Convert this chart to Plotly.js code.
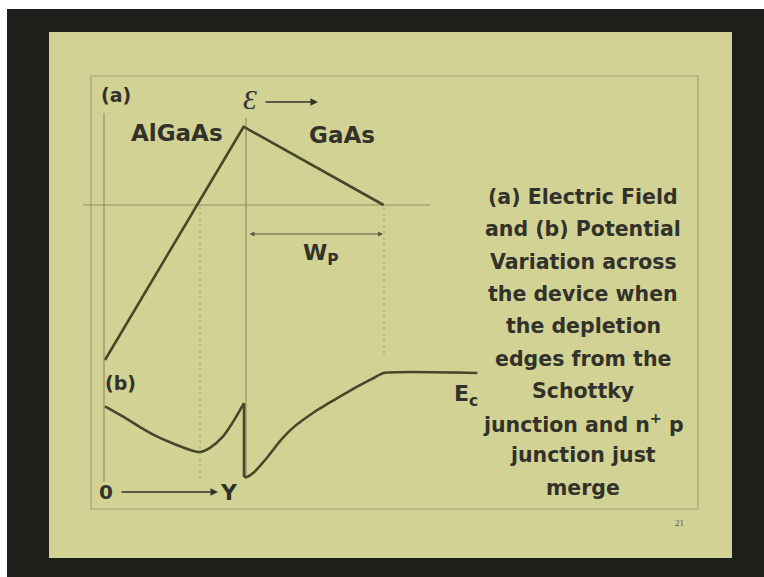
<!DOCTYPE html>
<html>
<head>
<meta charset="utf-8">
<script src="https://cdn.plot.ly/plotly-3.0.1.min.js"></script>
<style>html,body{margin:0;padding:0;background:#fff;}#chart{width:764px;height:577px;}</style>
</head>
<body>
<div id="chart"></div>
<script>
// ---- data (position in arbitrary units, interface at x = 10, depletion edge at x = 20) ----
const fieldX = [0, 9.9, 19.9];
const fieldE = [-10, 5.05, 0];

const alGaAsX = [0, 1.3, 2.5, 3.7, 4.9, 6.1, 6.8, 7.5, 8.4, 9.1, 9.93];
const alGaAsV = [6.8, 5.8, 4.8, 3.9, 3.2, 2.6, 2.4, 2.8, 3.85, 5.2, 7.1];

const gaAsX = [9.93, 10.15, 10.6, 11.6, 12.5, 13.4, 14.9, 16.3, 17.7, 19.1, 19.9, 26.6];
const gaAsV = [0, 0, 0.4, 1.9, 3.45, 4.7, 6.2, 7.35, 8.45, 9.45, 10, 10];

const textLines = [
  "(a) Electric Field",
  "and (b) Potential",
  "Variation across",
  "the device when",
  "the depletion",
  "edges from the",
  "Schottky",
  "junction and n<sup>+</sup> p",
  "junction just",
  "merge"
];

// ---- layout helpers (pixel -> paper) ----
const W = 764, H = 577;
const px = x => x / W;
const py = y => 1 - y / H;

const ink = '#32322a';
const curve = '#47472a';
const thin = '#8f8f66';
const bold = 'DejaVu Sans, Verdana, sans-serif';

const traces = [
  {x: fieldX, y: fieldE, mode: 'lines', line: {color: curve, width: 2.6}, hoverinfo: 'skip', yaxis: 'y'},
  {x: alGaAsX, y: alGaAsV, mode: 'lines', line: {color: curve, width: 2.6, shape: 'spline', smoothing: 0.8}, hoverinfo: 'skip', yaxis: 'y2'},
  {x: [alGaAsX[alGaAsX.length - 1], gaAsX[0]], y: [alGaAsV[alGaAsV.length - 1], gaAsV[0]], mode: 'lines', line: {color: curve, width: 2.6}, hoverinfo: 'skip', yaxis: 'y2'},
  {x: gaAsX, y: gaAsV, mode: 'lines', line: {color: curve, width: 2.6, shape: 'spline', smoothing: 0.5}, hoverinfo: 'skip', yaxis: 'y2'}
];

function rect(x0, y0, x1, y1, fill, line, layer) {
  return {type: 'rect', xref: 'paper', yref: 'paper', x0: px(x0), x1: px(x1), y0: py(y0), y1: py(y1),
          fillcolor: fill || 'rgba(0,0,0,0)', line: line || {width: 0}, layer: layer || 'below'};
}
function seg(x0, y0, x1, y1, color, width, dash) {
  return {type: 'line', xref: 'paper', yref: 'paper', x0: px(x0), x1: px(x1), y0: py(y0), y1: py(y1),
          line: {color: color, width: width, dash: dash || 'solid'}, layer: 'below'};
}

const shapes = [
  rect(7, 9, 764, 577, '#1d1f1a'),
  rect(49, 32, 732, 558, '#d3d295'),
  rect(91, 76, 698, 509, null, {color: '#a3a378', width: 1.2}),
  seg(104, 113, 104, 482, thin, 1.2),
  seg(83, 205, 430, 205, thin, 1.2),
  seg(246, 118, 246, 478, thin, 1.2),
  seg(200, 206, 200, 482, '#a6a67c', 1, 'dot'),
  seg(384, 207, 384, 357, '#a6a67c', 1, 'dot')
];

function txt(x, y, text, size, opts) {
  return Object.assign({xref: 'paper', yref: 'paper', x: px(x), y: py(y), text: text, showarrow: false,
    xanchor: 'center', yanchor: 'middle', font: {family: bold, size: size, color: ink, weight: 'bold'}}, opts || {});
}

const annotations = [
  txt(116, 95, '(a)', 19),
  txt(177, 133, 'AlGaAs', 23),
  txt(342, 135, 'GaAs', 23),
  txt(250, 100, 'Ɛ', 28, {font: {family: 'Liberation Serif, serif', size: 28, color: ink, style: 'italic'}}),
  txt(321, 254, 'W<sub>P</sub>', 22),
  txt(120, 383, '(b)', 19),
  txt(466, 395, 'E<sub>c</sub>', 22),
  txt(106, 492, '0', 20),
  txt(229, 492, 'Y', 22),
  txt(679, 523, '21', 9, {font: {family: 'Liberation Serif, serif', size: 9, color: '#55553f'}}),
  // arrows
  {xref: 'paper', yref: 'paper', x: px(318), y: py(102), ax: -54, ay: 0, text: '', showarrow: true,
   arrowhead: 2, arrowsize: 1, arrowwidth: 1.5, arrowcolor: ink},
  {xref: 'paper', yref: 'paper', x: px(218), y: py(492), ax: -98, ay: 0, text: '', showarrow: true,
   arrowhead: 2, arrowsize: 1, arrowwidth: 1.5, arrowcolor: ink},
  {xref: 'paper', yref: 'paper', x: px(383), y: py(234), ax: -135, ay: 0, text: '', showarrow: true,
   arrowhead: 2, arrowside: 'end+start', arrowsize: 0.9, arrowwidth: 1.1, arrowcolor: '#5a5a40'}
];

textLines.forEach((t, i) => {
  annotations.push(txt(583, 197 + i * 32.3, t, 20.5));
});

const layout = {
  width: W, height: H, autosize: false,
  margin: {l: 0, r: 0, t: 0, b: 0, pad: 0},
  paper_bgcolor: '#ffffff', plot_bgcolor: 'rgba(0,0,0,0)',
  showlegend: false,
  xaxis: {range: [-7.5, 47.0714], visible: false, fixedrange: true},
  yaxis: {range: [-24.0, 13.2258], visible: false, fixedrange: true},
  yaxis2: {range: [-9.615, 45.865], visible: false, overlaying: 'y', fixedrange: true},
  shapes: shapes,
  annotations: annotations
};

Plotly.newPlot('chart', traces, layout, {displayModeBar: false, staticPlot: true});
</script>
</body>
</html>
